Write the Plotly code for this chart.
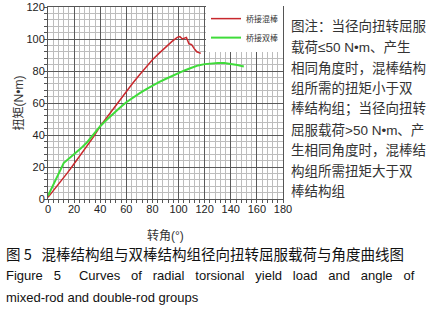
import plotly.graph_objects as go

# Data
mixed_angle = [0, 5, 10, 15, 20, 25, 30, 35, 40, 45, 50, 55, 60, 65, 70, 75, 80, 85, 90, 95, 99, 101, 103, 106, 108, 110, 112, 114, 117]
mixed_torque = [1, 6, 11, 16.5, 22, 27.5, 33, 39, 45.5, 51, 56.5, 62, 67.5, 72.5, 77.5, 82.5, 87, 91, 95, 98.5, 101, 101.5, 100, 101, 97, 96.5, 94, 92, 91]
double_angle = [0, 5, 10, 12, 15, 20, 25, 30, 35, 40, 45, 50, 55, 60, 65, 70, 75, 80, 85, 90, 95, 100, 105, 110, 115, 120, 125, 130, 135, 140, 145, 150]
double_torque = [2, 10, 19, 22.5, 24.5, 28, 31.5, 35.5, 40.5, 45.5, 49.5, 53.5, 57, 60.5, 63.5, 66, 68.5, 71, 73, 75, 77, 78.5, 80.5, 82, 83.5, 84.3, 84.8, 85, 85, 84.5, 83.8, 82.8]
series_names = ["桥接混棒", "桥接双棒"]
x_ticks = list(range(0, 181, 20))
y_ticks = list(range(0, 121, 20))

note_lines = [
    "图注：当径向扭转屈服",
    "载荷≤50 N•m、产生",
    "相同角度时，混棒结构",
    "组所需的扭矩小于双",
    "棒结构组；当径向扭转",
    "屈服载荷>50 N•m、产",
    "生相同角度时，混棒结",
    "构组所需扭矩大于双",
    "棒结构组",
]
NB = "\u00a0"
caption_cn = "图 5" + NB * 3 + "混棒结构组与双棒结构组径向扭转屈服载荷与角度曲线图"
caption_en1 = ("Figure 5" + NB * 2 + " Curves of radial torsional yield load and angle of").replace(" ", NB * 3)
caption_en2 = "mixed-rod and double-rod groups"

fig = go.Figure()
fig.add_trace(go.Scatter(x=mixed_angle, y=mixed_torque, mode="lines", name=series_names[0],
                         line=dict(color="#c8282d", width=1.5)))
fig.add_trace(go.Scatter(x=double_angle, y=double_torque, mode="lines", name=series_names[1],
                         line=dict(color="#3fdc3a", width=2)))

axis_common = dict(
    showgrid=True, gridcolor="#5a5a5a", gridwidth=1,
    showline=True, linecolor="#555", linewidth=1, mirror=True,
    zeroline=False,
    tickfont=dict(family="Arial, Liberation Sans", size=11, color="#222"),
    ticks="",
    minor=dict(dtick=4, showgrid=True, gridcolor="#bdbdbd", gridwidth=1,
               ticks="outside", ticklen=3, tickcolor="#555"),
)
fig.update_xaxes(range=[0, 180], tickvals=x_ticks, **axis_common)
fig.update_yaxes(range=[0, 120], tickvals=y_ticks, **axis_common)

fig.update_layout(
    width=434, height=311,
    margin=dict(l=48, r=151, t=7, b=112, autoexpand=False),
    paper_bgcolor="white", plot_bgcolor="white",
    showlegend=True,
    legend=dict(x=1, y=1.015, xanchor="right", yanchor="top",
                bgcolor="white", borderwidth=0,
                font=dict(family="Noto Sans CJK SC", size=8, color="#333"),
                tracegroupgap=0),
)

# Axis titles
fig.add_annotation(text="扭矩(N•m)", xref="paper", yref="paper", x=-0.16, y=0.5,
                   textangle=-90, showarrow=False,
                   font=dict(family="Arial, Noto Sans CJK SC", size=12, color="#333"))
fig.add_annotation(text="转角(°)", xref="paper", yref="paper", x=0.5, y=-0.14,
                   showarrow=False, yanchor="top",
                   font=dict(family="Arial, Noto Sans CJK SC", size=12, color="#333"))

def ypix(p):
    # pixel row in the figure -> paper coordinate
    return (199 - p) / 192

# Note text block on the right
for i, line in enumerate(note_lines):
    fig.add_annotation(text=line, xref="paper", yref="paper", x=1.0, xshift=6,
                       y=ypix(27 + i * 20.6), xanchor="left", yanchor="middle",
                       showarrow=False, align="left",
                       font=dict(family="Arial, Noto Sans CJK SC", size=13.5, color="#333"))

# Caption
fig.add_annotation(text=caption_cn, xref="paper", yref="paper", x=-48 / 235, xshift=4,
                   y=ypix(253), xanchor="left", yanchor="middle", showarrow=False,
                   font=dict(family="Noto Sans CJK SC", size=14.5, color="#111"))
fig.add_annotation(text=caption_en1, xref="paper", yref="paper", x=-48 / 235, xshift=4,
                   y=ypix(275), xanchor="left", yanchor="middle", showarrow=False,
                   font=dict(family="Arial, Liberation Sans", size=13, color="#111"))
fig.add_annotation(text=caption_en2, xref="paper", yref="paper", x=-48 / 235, xshift=4,
                   y=ypix(297), xanchor="left", yanchor="middle", showarrow=False,
                   font=dict(family="Arial, Liberation Sans", size=13, color="#111"))

fig.write_html("out.html", config={"displayModeBar": False},
               post_script="document.body.style.margin='0';document.body.style.overflow='hidden';")
